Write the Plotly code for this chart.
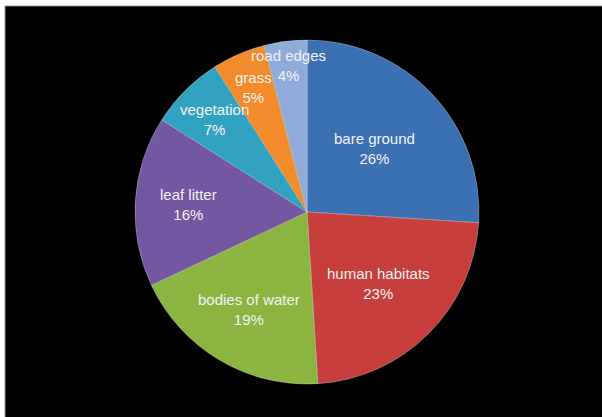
import math
import plotly.graph_objects as go

categories = ["bare ground", "human habitats", "bodies of water", "leaf litter",
              "vegetation", "grass", "road edges"]
values = [26, 23, 19, 16, 7, 5, 4]
colors = ["#3b70b3", "#c63f3c", "#8cb441", "#7357a1", "#31a3c0", "#f28b2b", "#8fabd9"]
label_radius = [0.54, 0.59, 0.66, 0.69, 0.76, 0.79, 0.86]

W, H = 602, 417
cx, cy, R = 307, 212, 172  # pixel center / radius of pie

fig = go.Figure(go.Pie(
    labels=categories,
    values=values,
    sort=False,
    direction="clockwise",
    rotation=0,
    marker=dict(colors=colors, line=dict(color="rgba(255,255,255,0.3)", width=1)),
    textinfo="none",
    hoverinfo="label+percent",
    showlegend=False,
    domain=dict(x=[(cx - R) / W, (cx + R) / W], y=[(H - cy - R) / H, (H - cy + R) / H]),
))

total = sum(values)
cum = 0
annotations = []
for name, v, f in zip(categories, values, label_radius):
    mid = (cum + v / 2) / total * 2 * math.pi
    cum += v
    px = cx + f * R * math.sin(mid)
    py = cy - f * R * math.cos(mid)
    annotations.append(dict(
        x=px / W, y=(H - py) / H, xref="paper", yref="paper",
        xanchor="center", yanchor="middle",
        text=f"{name}<br>{round(v / total * 100)}%",
        showarrow=False, align="center",
        font=dict(family="Liberation Sans, Arial, sans-serif", size=15, color="#f2f2f2"),
    ))

fig.update_layout(
    width=W, height=H,
    margin=dict(l=0, r=0, t=0, b=0),
    paper_bgcolor="white",
    plot_bgcolor="black",
    shapes=[dict(type="rect", xref="paper", yref="paper", layer="below",
                 x0=5 / W, x1=1.01, y0=-0.01, y1=(H - 6) / H,
                 fillcolor="black", line=dict(color="#8a8a8a", width=1))],
    annotations=annotations,
)

fig.write_html("out.html")
